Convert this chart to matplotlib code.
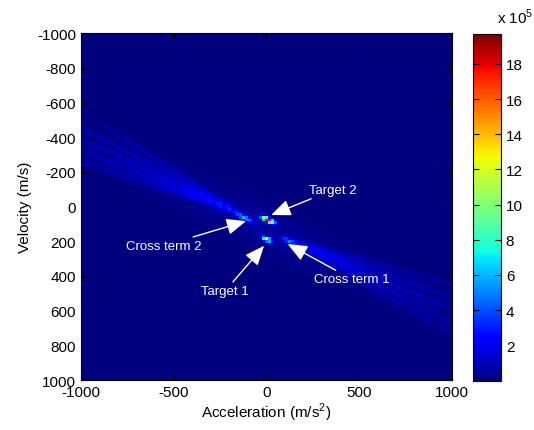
import numpy as np
import matplotlib
matplotlib.use("Agg")
import matplotlib.pyplot as plt

plt.rcParams['font.family'] = ['Liberation Sans', 'DejaVu Sans']
plt.rcParams['mathtext.fontset'] = 'custom'
plt.rcParams['mathtext.rm'] = 'Liberation Sans'
plt.rcParams['axes.unicode_minus'] = False

# grid of the ambiguity map (m/s^2, m/s)
acc = np.linspace(-1000, 1000, 129)
vel = np.linspace(-1000, 1000, 129)

# peaks, amplitude in units of 1e5
peak_names = ['Target 2', 'Target 1', 'Cross term 2', 'Cross term 1']
peak_acc = [8, 0, -115, 120]
peak_vel = [78, 190, 68, 200]
peak_amp = [19.7, 11.5, 5.5, 4.2]
peak_len = [34, 26, 48, 42]     # spread along the ridge
peak_wid = [12, 12, 13, 13]     # spread across the ridge

# streak fans (origin, side, slopes, amplitudes, visible length)
fan_acc = [-105, 110]
fan_vel = [60, 185]
fan_side = [-1, 1]
fan_slope = [[0.36, 0.43, 0.50, 0.58, 0.68],
             [0.30, 0.38, 0.46, 0.54, 0.62]]
fan_amp = [[2.2, 2.6, 2.6, 2.3, 1.9],
           [1.4, 2.0, 2.4, 2.1, 1.6]]
fan_len = [[1000, 1000, 1000, 900, 790],
           [1000, 1000, 1000, 1000, 1000]]

cbar_ticks = [2, 4, 6, 8, 10, 12, 14, 16, 18]
yticks = list(range(-1000, 1001, 200))
xticks = [-1000, -500, 0, 500, 1000]

A, V = np.meshgrid(acc, vel)
Z = np.zeros_like(A)

# ridge direction ~ slope 0.5
ux, uy = 1 / np.sqrt(1.25), 0.5 / np.sqrt(1.25)
for a0, v0, amp, ln, wd in zip(peak_acc, peak_vel, peak_amp, peak_len, peak_wid):
    dx, dy = A - a0, V - v0
    along = dx * ux + dy * uy
    across = -dx * uy + dy * ux
    Z += amp * np.exp(-(along / ln) ** 2 - (across / wd) ** 2)

for a0, v0, side, slopes, amps, lens in zip(fan_acc, fan_vel, fan_side, fan_slope, fan_amp, fan_len):
    da = (A - a0) * side
    for s, amp, L in zip(slopes, amps, lens):
        d = V - (v0 + s * (A - a0))
        env = np.where(da > 0, np.exp(-da / 900), 0) * (1 - np.exp(-da / 200))
        env = env / (1 + np.exp((da - L) / 30))
        Z += amp * np.exp(-(d / 17) ** 2) * env * (0.7 + 0.3 * np.cos(da / 16) ** 2)

# faint glow around the band
d = V - (125 + 0.5 * A)
Z += 0.6 * np.exp(-(d / 130) ** 2) * np.exp(-np.abs(A) / 500)

fig = plt.figure(figsize=(5.34, 4.31), dpi=100)
ax = fig.add_axes([0.1517, 0.116, 0.6947, 0.805])
im = ax.imshow(Z, cmap='jet', vmin=0, vmax=19.7, extent=[-1000, 1000, 1000, -1000],
               aspect='auto', interpolation='nearest')
ax.set_xticks(xticks)
ax.set_yticks(yticks)
ax.tick_params(direction='in', top=True, right=True, length=4, labelsize=11)
ax.set_xlabel('Acceleration (m/s$^2$)', fontsize=11, labelpad=1)
ax.set_ylabel('Velocity (m/s)', fontsize=11, labelpad=4)

arrow = dict(arrowstyle='-|>,head_length=0.6,head_width=0.25', color='white', lw=1,
             mutation_scale=20, shrinkA=0, shrinkB=0)
ax.annotate('Target 2', xy=(25, 49), xytext=(229, -95), color='white', fontsize=9.5,
            ha='left', va='center', arrowprops=arrow)
ax.annotate('Cross term 2', xy=(-110, 84), xytext=(-350, 226), color='white', fontsize=9.5,
            ha='right', va='center', arrowprops=arrow)
ax.annotate('Target 1', xy=(-13, 226), xytext=(-93, 485), color='white', fontsize=9.5,
            ha='right', va='center', arrowprops=arrow)
ax.annotate('Cross term 1', xy=(114, 216), xytext=(256, 418), color='white', fontsize=9.5,
            ha='left', va='center', arrowprops=arrow)

cax = fig.add_axes([0.8858, 0.1148, 0.0524, 0.804])
cb = fig.colorbar(im, cax=cax, ticks=cbar_ticks)
cax.tick_params(direction='in', left=True, right=True, length=4, labelsize=11)
fig.text(0.93, 0.945, 'x 10$^5$', fontsize=11, ha='left', va='baseline')

fig.savefig('out.png', dpi=100)
